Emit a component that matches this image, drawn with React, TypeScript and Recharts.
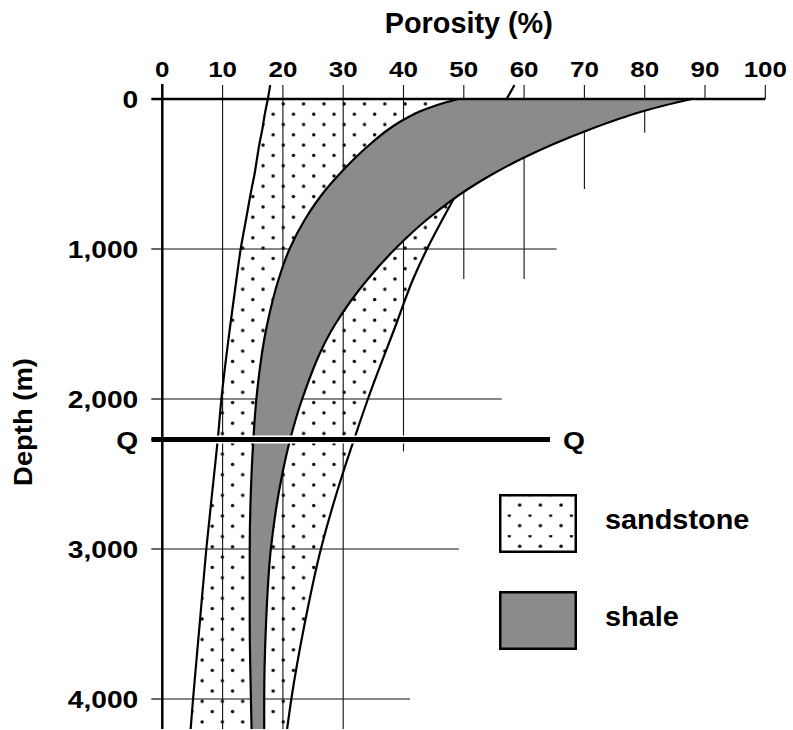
import React from 'react';
import { ComposedChart, Area, Line, XAxis, YAxis, ReferenceLine, Legend } from 'recharts';

// sandstone envelope: depth (m) and porosity (%)
const sandDepth = [0, 50, 100, 200, 300, 400, 500, 600, 800, 1000, 1200, 1500, 2000, 2270, 2500, 3000, 3500, 4000, 4200];
const sandLeft = [17.5, 17.25, 17.0, 16.6, 16.1, 15.7, 15.3, 14.8, 13.9, 13.0, 12.3, 11.3, 9.8, 9.2, 8.6, 7.3, 6.2, 5.1, 4.7];
const sandRight = [57.1, 56.4, 55.8, 54.4, 53.1, 51.8, 50.5, 49.2, 46.5, 43.9, 41.6, 38.8, 34.1, 31.8, 29.9, 26.3, 23.6, 21.4, 20.7];

// shale envelope: depth (m) and porosity (%)
const shaleDepth = [0, 25, 50, 75, 100, 150, 200, 300, 400, 500, 600, 800, 1000, 1200, 1500, 2000, 2270, 2500, 3000, 3500, 4000, 4200];
const shaleLeft = [49.1, 46.8, 44.9, 43.2, 41.8, 39.5, 37.6, 34.5, 31.8, 29.4, 27.2, 23.7, 21.1, 19.3, 17.4, 15.6, 15.1, 14.8, 14.5, 14.5, 14.7, 14.8];
const shaleRight = [87.8, 85.1, 82.6, 80.3, 78.2, 74.5, 71.1, 64.9, 59.5, 54.8, 50.7, 44.0, 38.6, 34.1, 28.7, 23.2, 21.2, 19.9, 18.0, 17.2, 16.9, 16.9];

// the sandstone lines poke a little above the surface
const stubDepth = -93;
const stubLeft = 17.9;
const stubRight = 58.4;

const qDepth = 2270;
const qStart = -1.8;
const qEnd = 64.3;

const porosityTicks = [0, 10, 20, 30, 40, 50, 60, 70, 80, 90, 100];
const depthTicks = [0, 1000, 2000, qDepth, 3000, 4000];

// grid lines only run part of the way
const gridX = [10, 20, 30, 40, 50, 60, 70, 80, 90, 100];
const gridXEnd = [4200, 4200, 4200, 2350, 1200, 1200, 600, 225, 0, 0];
const gridDepth = [1000, 2000, 3000, 4000];
const gridDepthEnd = [65.4, 56.3, 49.2, 41.1];

const legendLabels = ['sandstone', 'shale'];

const SHALE = '#8a8c8c';
const FONT = "'Liberation Sans', Arial, Helvetica, sans-serif";

const sandRows = sandDepth.map((depth, i) => ({ depth, sandL: sandLeft[i], sandR: sandRight[i] }));
const sandLineRows = [{ depth: stubDepth, sandL: stubLeft, sandR: stubRight }, ...sandRows];
const shaleRows = shaleDepth.map((depth, i) => ({ depth, shaleL: shaleLeft[i], shaleR: shaleRight[i] }));

function PorosityTick({ x, y, payload }: any) {
  return (
    <text transform={`translate(${x},${y}) scale(1.18,1)`} textAnchor="middle" fontSize={22} fontWeight="bold" fontFamily={FONT} fill="#000">
      {payload.value}
    </text>
  );
}

function DepthTick({ x, y, payload }: any) {
  const isQ = payload.value === qDepth;
  const label = isQ ? 'Q' : Number(payload.value).toLocaleString('en-US');
  return (
    <text transform={`translate(${x},${y + (isQ ? 9.5 : 8.5)}) scale(1.2,1)`} textAnchor="end" fontSize={23.5} fontWeight="bold" fontFamily={FONT} fill="#000">
      {label}
    </text>
  );
}

function PorosityTitle({ viewBox }: any) {
  return (
    <text x={viewBox.x + viewBox.width / 2 + 5} y={viewBox.y + 9} textAnchor="middle" fontSize={28.8} fontWeight="bold" fontFamily={FONT} fill="#000">
      Porosity (%)
    </text>
  );
}

function DepthTitle({ viewBox }: any) {
  const cy = viewBox.y + viewBox.height / 2 + 15.5;
  return (
    <text transform={`translate(${viewBox.x + 31.6},${cy}) rotate(-90) scale(1.07,1)`} textAnchor="middle" fontSize={25.6} fontWeight="bold" fontFamily={FONT} fill="#000">
      Depth (m)
    </text>
  );
}

function QLabel({ viewBox }: any) {
  return (
    <text transform={`translate(${viewBox.x + viewBox.width + 13},${viewBox.y + 9.5}) scale(1.2,1)`} fontSize={23.5} fontWeight="bold" fontFamily={FONT} fill="#000">
      Q
    </text>
  );
}

function RockLegend() {
  const fills = ['url(#legendDots)', SHALE];
  return (
    <svg width={280} height={160} style={{ display: 'block', overflow: 'visible' }}>
      <defs>
        <pattern id="legendDots" patternUnits="userSpaceOnUse" x={0} y={0} width={20.7} height={20.6}>
          <circle cx={10.3} cy={0.8} r={1.7} fill="#000" />
          <circle cx={0} cy={11.1} r={1.7} fill="#000" />
          <circle cx={20.7} cy={11.1} r={1.7} fill="#000" />
        </pattern>
      </defs>
      {legendLabels.map((name, i) => (
        <g key={name} transform={`translate(0,${i * 97})`}>
          <rect x={1.25} y={1.25} width={75.5} height={56.5} fill={fills[i]} stroke="#000" strokeWidth={2.5} />
          <text transform="translate(106,35) scale(1.05,1)" fontSize={27.5} fontWeight="bold" fontFamily={FONT} fill="#000">
            {name}
          </text>
        </g>
      ))}
    </svg>
  );
}

export default function App() {
  return (
    <div style={{ position: 'absolute', left: 0, top: 0, background: '#fff' }}>
      <ComposedChart
        width={793}
        height={730}
        data={sandRows}
        layout="vertical"
        margin={{ top: 24, right: 27.7, bottom: 1, left: 0 }}
      >
        <defs>
          <pattern id="sandDots" patternUnits="userSpaceOnUse" x={14.4} y={16.6} width={20.3} height={20.6}>
            <circle cx={5} cy={5} r={1.7} fill="#000" />
            <circle cx={15.15} cy={15.3} r={1.7} fill="#000" />
          </pattern>
        </defs>
        <XAxis
          type="number"
          orientation="top"
          domain={[0, 100]}
          allowDataOverflow
          ticks={porosityTicks}
          interval={0}
          height={60}
          axisLine={false}
          tickLine={false}
          tickSize={0}
          tickMargin={7}
          tick={<PorosityTick />}
          label={<PorosityTitle />}
        />
        <YAxis
          type="number"
          dataKey="depth"
          domain={[-100, 4200]}
          allowDataOverflow
          ticks={depthTicks}
          interval={0}
          width={162.3}
          axisLine={{ stroke: '#000', strokeWidth: 2.5 }}
          tickLine={{ stroke: '#000', strokeWidth: 1.2 }}
          tickSize={11}
          tickMargin={13}
          tick={<DepthTick />}
          label={<DepthTitle />}
        />
        <Area
          data={sandRows}
          dataKey={(r: any) => [r.sandL, r.sandR]}
          type="monotone"
          fill="url(#sandDots)"
          fillOpacity={1}
          stroke="none"
          isAnimationActive={false}
          zIndex={100}
        />
        {gridX.map((x, i) => (
          <ReferenceLine
            key={`gx${x}`}
            segment={[{ x, y: stubDepth }, { x, y: gridXEnd[i] }]}
            stroke="#111"
            strokeWidth={1.1}
            ifOverflow="visible"
            zIndex={110}
          />
        ))}
        {gridDepth.map((d, i) => (
          <ReferenceLine
            key={`gy${d}`}
            segment={[{ x: 0, y: d }, { x: gridDepthEnd[i], y: d }]}
            stroke="#111"
            strokeWidth={1.1}
            ifOverflow="visible"
            zIndex={110}
          />
        ))}
        <Line data={sandLineRows} dataKey="sandL" type="monotone" stroke="#000" strokeWidth={2.2} dot={false} activeDot={false} isAnimationActive={false} zIndex={120} />
        <Line data={sandLineRows} dataKey="sandR" type="monotone" stroke="#000" strokeWidth={2.2} dot={false} activeDot={false} isAnimationActive={false} zIndex={120} />
        <Area
          data={shaleRows}
          dataKey={(r: any) => [r.shaleL, r.shaleR]}
          type="monotone"
          fill={SHALE}
          fillOpacity={1}
          stroke="#000"
          strokeWidth={2.2}
          isAnimationActive={false}
          zIndex={130}
        />
        <ReferenceLine
          segment={[{ x: qStart, y: 0 }, { x: 100, y: 0 }]}
          stroke="#000"
          strokeWidth={2.5}
          ifOverflow="visible"
          zIndex={140}
        />
        <ReferenceLine
          segment={[{ x: qStart, y: qDepth }, { x: qEnd, y: qDepth }]}
          stroke="#fff"
          strokeWidth={8}
          ifOverflow="visible"
          zIndex={150}
        />
        <ReferenceLine
          segment={[{ x: qStart, y: qDepth }, { x: qEnd, y: qDepth }]}
          stroke="#000"
          strokeWidth={5}
          ifOverflow="visible"
          zIndex={160}
          label={<QLabel />}
        />
        <Legend
          layout="vertical"
          align="center"
          verticalAlign="middle"
          content={<RockLegend />}
          wrapperStyle={{ left: 499, top: 494, width: 280, height: 160 }}
        />
      </ComposedChart>
    </div>
  );
}
